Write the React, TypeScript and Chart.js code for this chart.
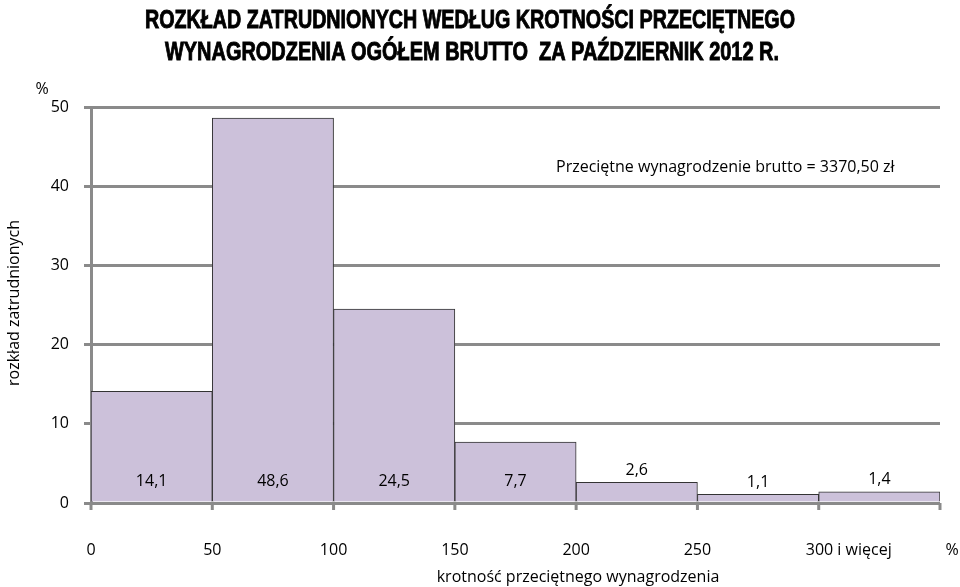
import React, { useEffect, useRef } from "react";
import { Chart, registerables } from "chart.js";

Chart.register(...registerables);

const binStarts = [0, 50, 100, 150, 200, 250, 300];
const binWidth = 50;
const shares = [14.1, 48.6, 24.5, 7.7, 2.6, 1.1, 1.4];
const shareLabels = ["14,1", "48,6", "24,5", "7,7", "2,6", "1,1", "1,4"];
const xTickValues = [0, 50, 100, 150, 200, 250, 300, 350];
const xTickLabels = ["0", "50", "100", "150", "200", "250", "300 i więcej", "%"];
const titleLines = [
  "ROZKŁAD ZATRUDNIONYCH WEDŁUG KROTNOŚCI PRZECIĘTNEGO",
  "WYNAGRODZENIA OGÓŁEM BRUTTO  ZA PAŹDZIERNIK 2012 R.",
];
const noteText = "Przeciętne wynagrodzenie brutto = 3370,50 zł";
const yTitle = "rozkład zatrudnionych";
const xTitle = "krotność przeciętnego wynagrodzenia";

const FONT = "'Open Sans', 'Liberation Sans', sans-serif";
const GRID = "#8a8a8a";

function drawCondensed(ctx: any, text: string, cx: number, cy: number, targetW: number) {
  const w = ctx.measureText(text).width;
  const sx = targetW / w;
  ctx.save();
  ctx.translate(cx, cy);
  ctx.scale(sx, 1);
  ctx.lineWidth = 0.9;
  ctx.strokeStyle = "#000";
  ctx.strokeText(text, 0, 0);
  ctx.fillText(text, 0, 0);
  ctx.restore();
}

const overlay = {
  id: "overlay",
  afterDraw(chart: any) {
    const { ctx, chartArea } = chart;
    const xs = chart.scales.x;
    const ys = chart.scales.y;
    ctx.save();
    // x tick marks
    ctx.strokeStyle = GRID;
    ctx.lineWidth = 3;
    xTickValues.forEach((v) => {
      const px = xs.getPixelForValue(v);
      ctx.beginPath();
      ctx.moveTo(px, chartArea.bottom);
      ctx.lineTo(px, chartArea.bottom + 7);
      ctx.stroke();
    });
    // x tick labels
    ctx.fillStyle = "#000";
    ctx.font = `16px ${FONT}`;
    ctx.textAlign = "center";
    ctx.textBaseline = "middle";
    xTickValues.forEach((v, i) => {
      let px = xs.getPixelForValue(v);
      if (i === 6) px += 30;
      if (i === 7) px += 12;
      ctx.fillText(xTickLabels[i], px, 550);
    });
    // data labels
    ctx.font = `16px ${FONT}`;
    const base = ys.getPixelForValue(0);
    shares.forEach((v, i) => {
      const cx = xs.getPixelForValue(binStarts[i] + binWidth / 2);
      const top = ys.getPixelForValue(v);
      const y = base - top > 30 ? base - 22 : top - 12;
      ctx.fillText(shareLabels[i], cx, y);
    });
    // note
    ctx.textAlign = "left";
    ctx.font = `16px ${FONT}`;
    ctx.fillText(noteText, 556, 167);
    // axis titles
    ctx.textAlign = "center";
    ctx.font = `16px ${FONT}`;
    ctx.fillText(xTitle, 578, 577);
    ctx.fillText("%", 42, 89);
    ctx.save();
    ctx.translate(14, 303);
    ctx.rotate(-Math.PI / 2);
    ctx.font = `16px ${FONT}`;
    ctx.fillText(yTitle, 0, 0);
    ctx.restore();
    // title
    ctx.font = `bold 25px 'Liberation Sans', 'Arial', sans-serif`;
    drawCondensed(ctx, titleLines[0], 470, 21, 650);
    drawCondensed(ctx, titleLines[1], 472, 53, 614);
    ctx.restore();
  },
};

export default function App() {
  const ref = useRef<HTMLCanvasElement>(null);
  useEffect(() => {
    if (!ref.current) return;
    const chart = new Chart(ref.current, {
      type: "bar",
      data: {
        datasets: [
          {
            data: shares.map((v, i) => ({ x: binStarts[i] + binWidth / 2, y: v })),
            backgroundColor: "#CCC1DA",
            borderColor: "#333333",
            borderWidth: 1,
            barPercentage: 1,
            categoryPercentage: 1,
          },
        ],
      },
      options: {
        animation: false,
        responsive: false,
        maintainAspectRatio: false,
        layout: { padding: { left: 0, right: 20, top: 107, bottom: 84 } },
        plugins: { legend: { display: false }, tooltip: { enabled: false } },
        scales: {
          x: {
            type: "linear",
            min: 0,
            max: 350,
            offset: false,
            ticks: { display: false, stepSize: 50 },
            grid: { display: false },
            border: { display: false },
            afterFit: (s: any) => {
              s.height = 0;
            },
          },
          y: {
            min: 0,
            max: 50,
            ticks: {
              stepSize: 10,
              padding: 15,
              color: "#000",
              font: { family: FONT, size: 16 },
            },
            grid: { color: GRID, lineWidth: 3, tickLength: 7, drawTicks: true },
            border: { display: true, color: GRID, width: 3 },
            afterFit: (s: any) => {
              s.width = 91;
            },
          },
        },
      },
      plugins: [overlay],
    });
    return () => chart.destroy();
  }, []);
  return (
    <div style={{ position: "absolute", left: 0, top: 0, width: 960, height: 587 }}>
      <canvas ref={ref} width={960} height={587} style={{ width: 960, height: 587 }} />
    </div>
  );
}
